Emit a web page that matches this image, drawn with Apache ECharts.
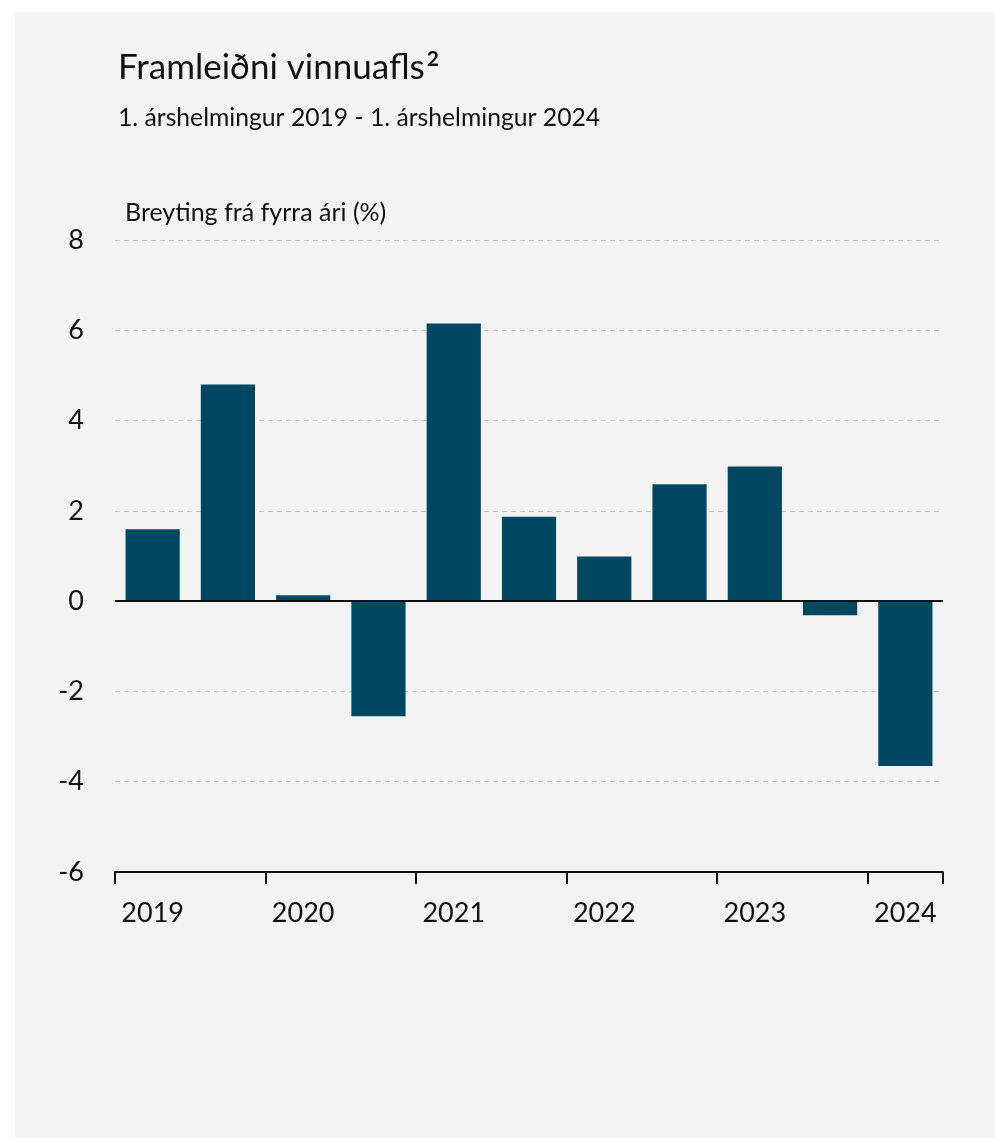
<!DOCTYPE html>
<html>
<head>
<meta charset="utf-8">
<script src="https://cdn.jsdelivr.net/npm/echarts@6/dist/echarts.min.js"></script>
<style>
html,body{margin:0;padding:0;background:#ffffff;}
#c{width:995px;height:1138px;}
</style>
</head>
<body>
<div id="c"></div>
<script>
const categories = ['2019 H1','2019 H2','2020 H1','2020 H2','2021 H1','2021 H2','2022 H1','2022 H2','2023 H1','2023 H2','2024 H1'];
const values = [1.59, 4.8, 0.13, -2.55, 6.15, 1.87, 0.99, 2.59, 2.98, -0.31, -3.65];
const yTicks = { min: -6, max: 8, interval: 2 };

const FONT = 'Lato';
const chart = echarts.init(document.getElementById('c'), null, { renderer: 'canvas' });
chart.setOption({
  backgroundColor: 'transparent',
  animation: false,
  graphic: [{
    type: 'rect', z: -10, silent: true,
    shape: { x: 15, y: 12, width: 980, height: 1126 },
    style: { fill: '#f3f3f3' }
  }],
  title: [
    {
      text: '{a|Framleiðni vinnuafls}{b|2}',
      left: 113, top: 44,
      textStyle: {
        rich: {
          a: { fontFamily: FONT, fontSize: 35, color: '#111111', fontWeight: 'normal' },
          b: { fontFamily: FONT, fontSize: 21, color: '#111111', verticalAlign: 'top', padding: [0, 0, 16, 2] }
        }
      }
    },
    {
      text: '1. árshelmingur 2019 - 1. árshelmingur 2024',
      left: 113, top: 101,
      textStyle: { fontFamily: FONT, fontSize: 24.7, color: '#111111', fontWeight: 'normal' }
    },
    {
      text: 'Breyting frá fyrra ári (%)',
      left: 120, top: 195,
      textStyle: { fontFamily: FONT, fontSize: 25, color: '#111111', fontWeight: 'normal' }
    }
  ],
  grid: { left: 115, right: 52, top: 240, bottom: 266, containLabel: false },
  xAxis: {
    type: 'category',
    data: categories,
    boundaryGap: true,
    axisLine: { onZero: false, lineStyle: { color: '#111111', width: 2 } },
    axisTick: { show: true, interval: 1, length: 12, lineStyle: { color: '#111111', width: 2 } },
    axisLabel: {
      interval: 1, margin: 28,
      fontFamily: FONT, fontSize: 27, color: '#111111',
      formatter: v => v.split(' ')[0]
    },
    splitLine: { show: false }
  },
  yAxis: {
    type: 'value',
    min: yTicks.min, max: yTicks.max, interval: yTicks.interval,
    axisLine: { show: false },
    axisTick: { show: false },
    axisLabel: { margin: 31, fontFamily: FONT, fontSize: 27, color: '#111111' },
    splitLine: { show: true, lineStyle: { color: '#c8c8c8', type: [5, 4], width: 1 } }
  },
  series: [{
    type: 'bar',
    data: values,
    barCategoryGap: '28%',
    itemStyle: { color: '#004862' },
    markLine: {
      silent: true, symbol: 'none', label: { show: false },
      lineStyle: { color: '#111111', width: 2, type: 'solid' },
      data: [{ yAxis: 0 }],
      z: 10
    }
  }]
});
</script>
</body>
</html>
